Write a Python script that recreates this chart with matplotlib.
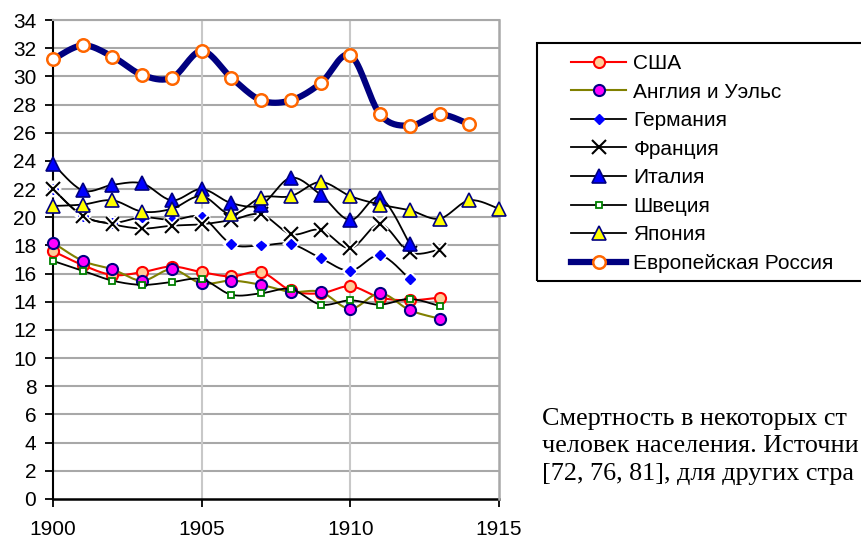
import numpy as np
import matplotlib
matplotlib.use("Agg")
from matplotlib import pyplot as plt
from matplotlib import patheffects as pe
from matplotlib.lines import Line2D
from matplotlib.patches import Rectangle

plt.rcParams['font.family'] = ['Liberation Sans', 'DejaVu Sans']

# death rate per 1000 population
years = list(range(1900, 1916))

usa = [17.6, 16.6, 15.9, 16.1, 16.5, 16.1, 15.8, 16.1, 14.8, 14.6, 15.1, 14.3, 14.1, 14.3]
england = [18.2, 16.9, 16.3, 15.5, 16.3, 15.3, 15.5, 15.2, 14.7, 14.7, 13.5, 14.6, 13.4, 12.8]
germany = [22.0, 20.1, 19.6, 20.0, 19.8, 20.0, 18.1, 18.0, 18.1, 17.1, 16.2, 17.3, 15.6]
france = [22.0, 20.1, 19.5, 19.2, 19.4, 19.5, 19.8, 20.2, 18.8, 19.1, 17.8, 19.5, 17.5, 17.7]
italy = [23.8, 21.9, 22.3, 22.4, 21.2, 22.0, 21.0, 20.9, 22.8, 21.6, 19.8, 21.4, 18.1]
sweden = [16.9, 16.2, 15.5, 15.2, 15.4, 15.6, 14.5, 14.6, 14.9, 13.8, 14.1, 13.8, 14.2, 13.7]
japan = [20.8, 20.9, 21.2, 20.4, 20.6, 21.5, 20.2, 21.4, 21.5, 22.5, 21.5, 20.9, 20.5, 19.9, 21.2, 20.6]
russia = [31.2, 32.2, 31.4, 30.1, 29.9, 31.8, 29.9, 28.3, 28.3, 29.5, 31.5, 27.3, 26.5, 27.3, 26.6]

# caption as far as it is visible (the rest runs past the picture edge)
caption = ["Смертность в некоторых ст",
           "человек населения. Источни",
           "[72, 76, 81], для других стра"]


def smooth(x, y, n=20):
    # Excel-like smoothed line: cubic bezier through the points
    x = np.asarray(x, float)
    y = np.asarray(y, float)
    px = np.concatenate([[x[0]], x, [x[-1]]])
    py = np.concatenate([[y[0]], y, [y[-1]]])
    t = np.linspace(0, 1, n)
    xs, ys = [], []
    for i in range(len(x) - 1):
        p0 = np.array([px[i], py[i]])
        p1 = np.array([px[i + 1], py[i + 1]])
        p2 = np.array([px[i + 2], py[i + 2]])
        p3 = np.array([px[i + 3], py[i + 3]])
        c1 = p1 + (p2 - p0) / 6.0
        c2 = p2 - (p3 - p1) / 6.0
        b = ((1 - t) ** 3)[:, None] * p1 + (3 * (1 - t) ** 2 * t)[:, None] * c1 \
            + (3 * (1 - t) * t ** 2)[:, None] * c2 + (t ** 3)[:, None] * p2
        xs.extend(b[:, 0])
        ys.extend(b[:, 1])
    return xs, ys


gap = [pe.Stroke(linewidth=4, foreground='white'), pe.Normal()]

series = [
    ("США", usa, dict(color='#FF0000', lw=1.5),
     dict(marker='o', ms=8, mfc='#FFCC99', mec='#FF0000', mew=1.5)),
    ("Англия и Уэльс", england, dict(color='#808000', lw=1.5),
     dict(marker='o', ms=8, mfc='#FF00FF', mec='#000080', mew=1.5)),
    ("Германия", germany, dict(color='black', lw=1.3),
     dict(marker='D', ms=5, mfc='#0000FF', mec='#0000FF', mew=1.0)),
    ("Франция", france, dict(color='black', lw=1.3),
     dict(marker='x', ms=10, mfc='black', mec='black', mew=1.5)),
    ("Италия", italy, dict(color='black', lw=1.3),
     dict(marker='^', ms=10, mfc='#0000FF', mec='#000080', mew=1.2)),
    ("Швеция", sweden, dict(color='black', lw=1.3),
     dict(marker='s', ms=5, mfc='white', mec='#008000', mew=1.3)),
    ("Япония", japan, dict(color='black', lw=1.3),
     dict(marker='^', ms=10, mfc='#FFFF00', mec='#000080', mew=1.2)),
    ("Европейская Россия", russia, dict(color='#000080', lw=4.5),
     dict(marker='o', ms=9, mfc='white', mec='#FF6600', mew=1.8)),
]

fig = plt.figure(figsize=(8.62, 5.39), dpi=100)
ax = fig.add_axes([53 / 862, 40 / 539, 446 / 862, 479 / 539])

handles = []
for k, (name, vals, lstyle, mstyle) in enumerate(series):
    xs = years[:len(vals)]
    sx, sy = smooth(xs, vals)
    ax.plot(sx, sy, zorder=3 + 2 * k, solid_capstyle='round', **lstyle)
    effects = gap if mstyle['marker'] in ('x', 'D') else None
    ax.plot(xs, vals, linestyle='none', zorder=4 + 2 * k, clip_on=False,
            path_effects=effects, **mstyle)
    handles.append(Line2D([], [], label=name, **lstyle, **mstyle))

ax.set_xlim(1900, 1915)
ax.set_ylim(0, 34)
ax.set_xticks([1900, 1905, 1910, 1915])
ax.set_yticks(range(0, 35, 2))
ax.tick_params(labelsize=15, length=6, width=1.3, color='black')
ax.tick_params(axis='x', pad=9)
ax.tick_params(axis='y', pad=6)
for y in range(2, 35, 2):
    ax.axhline(y, color='#A8A8A8', lw=1.5, zorder=1)
for x in [1905, 1910]:
    ax.axvline(x, color='#C8C8C8', lw=1.5, zorder=1)
ax.spines['left'].set_linewidth(1.5)
ax.spines['bottom'].set_linewidth(1.8)
ax.spines['bottom'].set_zorder(2)
ax.spines['right'].set_color('#A8A8A8')
ax.spines['right'].set_linewidth(1.8)
ax.spines['top'].set_color('#A8A8A8')
ax.spines['top'].set_linewidth(1.5)

fig.add_artist(Rectangle((537 / 862, 1 - 281 / 539), 0.5, 238 / 539,
                         transform=fig.transFigure, fill=False,
                         edgecolor='black', lw=1.5))
fig.legend(handles=handles, loc='upper left', frameon=False,
           bbox_to_anchor=(571 / 862, 1 - 54 / 539), borderpad=0,
           borderaxespad=0, fontsize=15, handlelength=2.65,
           handletextpad=0.34, labelspacing=0.46)

for i, line in enumerate(caption):
    fig.text(542 / 862, 1 - (425 + 27.5 * i) / 539, line, fontsize=18.8,
             family='Liberation Serif', va='baseline', ha='left')

fig.savefig("out.png", dpi=100)
